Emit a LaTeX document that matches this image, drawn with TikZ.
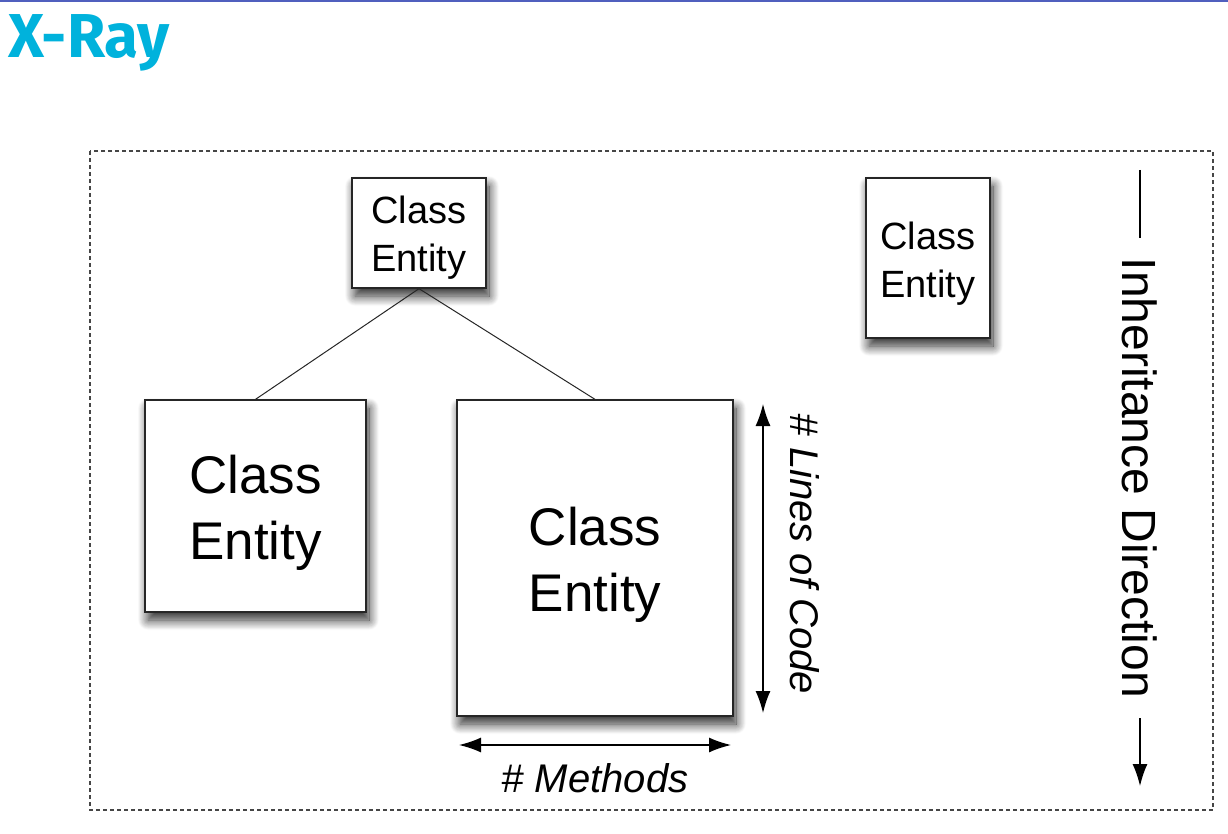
\documentclass[tikz,border=0pt]{standalone}
\usepackage{fontspec}
\setmainfont{Liberation Sans}
\newfontfamily\titlefont{Fira Sans}
\usetikzlibrary{arrows.meta,shadows.blur}
\definecolor{titlecyan}{RGB}{0,178,220}
\definecolor{rulecol}{RGB}{80,95,190}
\definecolor{framecol}{RGB}{70,70,70}
\tikzset{
  clsbox/.style={draw=black!85, fill=white, line width=1.3pt, align=center, inner sep=0pt,
    blur shadow={shadow xshift=3pt, shadow yshift=-8pt, shadow blur radius=10pt, shadow blur steps=14, shadow opacity=85}},
  smallfont/.style={font=\fontsize{38}{48}\selectfont},
  bigfont/.style={font=\fontsize{53}{66}\selectfont},
  dimarrow/.style={line width=1.3pt, {Latex[length=22pt,width=15pt]}-{Latex[length=22pt,width=15pt]}},
  dimlabel/.style={font=\itshape\fontsize{40}{40}\selectfont, inner sep=0pt},
  connector/.style={line width=1pt, black!85},
}
\begin{document}
\begin{tikzpicture}[x=1pt,y=-1pt]
\useasboundingbox (0,0) rectangle (1228,834);
\draw[rulecol, line width=1.5pt] (0,1) -- (1228,1);
\node[anchor=base west, text=titlecyan, font=\titlefont\bfseries\fontsize{62}{62}\selectfont, inner sep=0pt] (title) at (8,58) {X-Ray};
% frame
\draw[framecol, line width=1.3pt, dash pattern=on 4pt off 3pt] (90,151) rectangle (1213,810);
% boxes
\node[clsbox, smallfont, minimum width=134pt, minimum height=110pt] (top) at (419,233) {\rule{0pt}{36pt}Class\\Entity};
\node[clsbox, smallfont, minimum width=124pt, minimum height=160pt] (right) at (928,258) {\rule{0pt}{39pt}Class\\Entity};
\node[clsbox, bigfont, minimum width=221pt, minimum height=212pt] (left) at (255.5,506) {\rule{0pt}{51pt}Class\\Entity};
\node[clsbox, bigfont, minimum width=276pt, minimum height=316pt] (center) at (595,558) {\rule{0pt}{51pt}Class\\Entity};
% connectors
\draw[connector] (top.south) -- (left.north);
\draw[connector] (top.south) -- (center.north);
% lines of code
\coordinate (locA) at (763,404);
\coordinate (locB) at (763,713);
\draw[dimarrow] (locA) -- (locB);
\node[dimlabel, rotate=-90] (loclabel) at (805,554) {\# Lines of Code};
% methods
\coordinate (mA) at (459,745);
\coordinate (mB) at (731,745);
\draw[dimarrow] (mA) -- (mB);
\node[dimlabel] (mlabel) at (595,778) {\# Methods};
% inheritance direction
\coordinate (iA) at (1140,170);
\coordinate (iB) at (1140,238);
\coordinate (iC) at (1140,718);
\coordinate (iD) at (1140,786);
\node[font=\fontsize{48}{48}\selectfont, rotate=-90, inner sep=0pt] (ilabel) at (1140,478) {Inheritance Direction};
\draw[line width=1.3pt] (iA) -- (iB);
\draw[line width=1.3pt, -{Latex[length=22pt,width=15pt]}] (iC) -- (iD);
\end{tikzpicture}
\end{document}
